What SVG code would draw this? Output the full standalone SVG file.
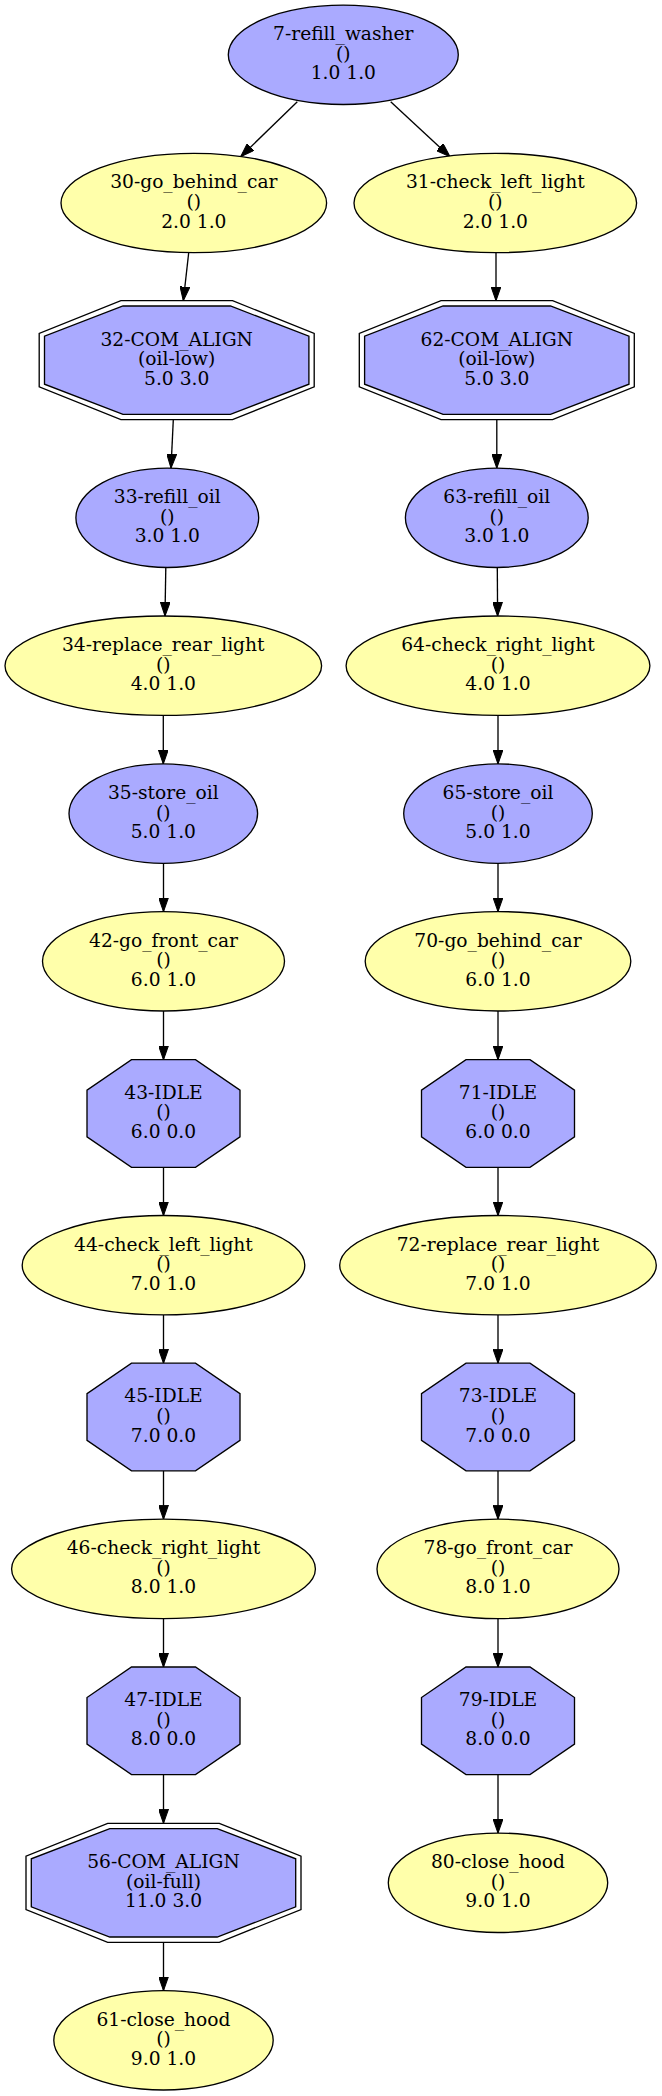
<svg xmlns="http://www.w3.org/2000/svg" width="662" height="2096" viewBox="0 0 662 2096">
<style>
.b{fill:#aaaaff;stroke:#000;stroke-width:1.33}
.y{fill:#ffffaa;stroke:#000;stroke-width:1.33}
.o{fill:none;stroke:#000;stroke-width:1.33}
.t{font-family:"DejaVu Serif",serif;font-size:18.67px;text-anchor:middle;fill:#000}
.e{fill:none;stroke:#000;stroke-width:1.33;marker-end:url(#ah)}
</style>
<defs>
<marker id="ah" markerUnits="userSpaceOnUse" markerWidth="14" markerHeight="10" viewBox="0 0 13.4 9.4" refX="13.4" refY="4.7" orient="auto">
<path d="M0,0 L13.4,4.7 L0,9.4 z" fill="#000" stroke="#000" stroke-width="1"/>
</marker>
</defs>
<rect width="662" height="2096" fill="#fff"/>
<g id="edges">
<path class="e" d="M297.3,101.7 L240.7,156.7"/>
<path class="e" d="M390.7,101.7 L450,156.7"/>
<path class="e" d="M188.7,252.7 L183.3,300.7"/>
<path class="e" d="M496,252.7 L496,300.7"/>
<path class="e" d="M173.3,419.7 L171,468.1"/>
<path class="e" d="M496.8,419.7 L496.8,468.1"/>
<path class="e" d="M165.8,567.5 L165,616"/>
<path class="e" d="M497.3,567.5 L497.6,616"/>
<path class="e" d="M163.3,715.4 L163.3,763.9"/>
<path class="e" d="M498,715.4 L498,763.9"/>
<path class="e" d="M163.5,863.3 L163.5,911.6"/>
<path class="e" d="M498,863.3 L498,911.6"/>
<path class="e" d="M163.5,1011 L163.5,1059.7"/>
<path class="e" d="M498,1011 L498,1059.7"/>
<path class="e" d="M163.5,1167.3 L163.5,1215.5"/>
<path class="e" d="M498,1167.3 L498,1215.5"/>
<path class="e" d="M163.5,1314.9 L163.5,1363.2"/>
<path class="e" d="M498,1314.9 L498,1363.2"/>
<path class="e" d="M163.5,1470.8 L163.5,1519.2"/>
<path class="e" d="M498,1470.8 L498,1519.2"/>
<path class="e" d="M163.5,1618.6 L163.5,1667"/>
<path class="e" d="M498,1618.6 L498,1667"/>
<path class="e" d="M163.5,1774.6 L163.5,1823.3"/>
<path class="e" d="M498,1774.6 L498,1833.1"/>
<path class="e" d="M163.5,1942.3 L163.5,1990.6"/>
</g>
<g id="n7"><ellipse class="b" cx="343.3" cy="54.8" rx="115" ry="49.7"/><text class="t" x="343.3" y="40.1">7-refill_washer</text><text class="t" x="343.3" y="59.7">()</text><text class="t" x="343.3" y="79.3">1.0 1.0</text></g>
<g id="n30"><ellipse class="y" cx="193.8" cy="203" rx="132.8" ry="49.7"/><text class="t" x="193.8" y="188.3">30-go_behind_car</text><text class="t" x="193.8" y="207.9">()</text><text class="t" x="193.8" y="227.5">2.0 1.0</text></g>
<g id="n31"><ellipse class="y" cx="495.3" cy="203" rx="141.3" ry="49.7"/><text class="t" x="495.3" y="188.3">31-check_left_light</text><text class="t" x="495.3" y="207.9">()</text><text class="t" x="495.3" y="227.5">2.0 1.0</text></g>
<g id="n32"><polygon class="o" points="120.9,300.7 232.5,300.7 314.2,333.5 314.2,386.9 232.5,419.7 120.9,419.7 39.2,386.9 39.2,333.5"/><polygon class="b" points="123,306 230.4,306 308.9,336.2 308.9,384.2 230.4,414.4 123,414.4 44.5,384.2 44.5,336.2"/><text class="t" x="176.7" y="345.5">32-COM_ALIGN</text><text class="t" x="176.7" y="365.1">(oil-low)</text><text class="t" x="176.7" y="384.7">5.0 3.0</text></g>
<g id="n62"><polygon class="o" points="441,300.7 552.6,300.7 634.3,333.5 634.3,386.9 552.6,419.7 441,419.7 359.3,386.9 359.3,333.5"/><polygon class="b" points="443.1,306 550.5,306 629,336.2 629,384.2 550.5,414.4 443.1,414.4 364.6,384.2 364.6,336.2"/><text class="t" x="496.8" y="345.5">62-COM_ALIGN</text><text class="t" x="496.8" y="365.1">(oil-low)</text><text class="t" x="496.8" y="384.7">5.0 3.0</text></g>
<g id="n33"><ellipse class="b" cx="167.3" cy="517.8" rx="91.4" ry="49.7"/><text class="t" x="167.3" y="503.1">33-refill_oil</text><text class="t" x="167.3" y="522.7">()</text><text class="t" x="167.3" y="542.3">3.0 1.0</text></g>
<g id="n63"><ellipse class="b" cx="496.8" cy="517.8" rx="91.4" ry="49.7"/><text class="t" x="496.8" y="503.1">63-refill_oil</text><text class="t" x="496.8" y="522.7">()</text><text class="t" x="496.8" y="542.3">3.0 1.0</text></g>
<g id="n34"><ellipse class="y" cx="163.3" cy="665.7" rx="158.3" ry="49.7"/><text class="t" x="163.3" y="651">34-replace_rear_light</text><text class="t" x="163.3" y="670.6">()</text><text class="t" x="163.3" y="690.2">4.0 1.0</text></g>
<g id="n64"><ellipse class="y" cx="498" cy="665.7" rx="151.9" ry="49.7"/><text class="t" x="498" y="651">64-check_right_light</text><text class="t" x="498" y="670.6">()</text><text class="t" x="498" y="690.2">4.0 1.0</text></g>
<g id="n35"><ellipse class="b" cx="163.3" cy="813.6" rx="94.3" ry="49.7"/><text class="t" x="163.3" y="798.9">35-store_oil</text><text class="t" x="163.3" y="818.5">()</text><text class="t" x="163.3" y="838.1">5.0 1.0</text></g>
<g id="n65"><ellipse class="b" cx="498" cy="813.6" rx="94.3" ry="49.7"/><text class="t" x="498" y="798.9">65-store_oil</text><text class="t" x="498" y="818.5">()</text><text class="t" x="498" y="838.1">5.0 1.0</text></g>
<g id="n42"><ellipse class="y" cx="163.5" cy="961.3" rx="121" ry="49.7"/><text class="t" x="163.5" y="946.6">42-go_front_car</text><text class="t" x="163.5" y="966.2">()</text><text class="t" x="163.5" y="985.8">6.0 1.0</text></g>
<g id="n70"><ellipse class="y" cx="498" cy="961.3" rx="132.8" ry="49.7"/><text class="t" x="498" y="946.6">70-go_behind_car</text><text class="t" x="498" y="966.2">()</text><text class="t" x="498" y="985.8">6.0 1.0</text></g>
<g id="n43"><polygon class="b" points="131.5,1059.7 195.5,1059.7 240,1090.2 240,1136.8 195.5,1167.3 131.5,1167.3 87,1136.8 87,1090.2"/><text class="t" x="163.5" y="1098.8">43-IDLE</text><text class="t" x="163.5" y="1118.4">()</text><text class="t" x="163.5" y="1138">6.0 0.0</text></g>
<g id="n71"><polygon class="b" points="466,1059.7 530,1059.7 574.5,1090.2 574.5,1136.8 530,1167.3 466,1167.3 421.5,1136.8 421.5,1090.2"/><text class="t" x="498" y="1098.8">71-IDLE</text><text class="t" x="498" y="1118.4">()</text><text class="t" x="498" y="1138">6.0 0.0</text></g>
<g id="n44"><ellipse class="y" cx="163.5" cy="1265.2" rx="141.3" ry="49.7"/><text class="t" x="163.5" y="1250.5">44-check_left_light</text><text class="t" x="163.5" y="1270.1">()</text><text class="t" x="163.5" y="1289.7">7.0 1.0</text></g>
<g id="n72"><ellipse class="y" cx="498" cy="1265.2" rx="158.3" ry="49.7"/><text class="t" x="498" y="1250.5">72-replace_rear_light</text><text class="t" x="498" y="1270.1">()</text><text class="t" x="498" y="1289.7">7.0 1.0</text></g>
<g id="n45"><polygon class="b" points="131.5,1363.2 195.5,1363.2 240,1393.7 240,1440.3 195.5,1470.8 131.5,1470.8 87,1440.3 87,1393.7"/><text class="t" x="163.5" y="1402.3">45-IDLE</text><text class="t" x="163.5" y="1421.9">()</text><text class="t" x="163.5" y="1441.5">7.0 0.0</text></g>
<g id="n73"><polygon class="b" points="466,1363.2 530,1363.2 574.5,1393.7 574.5,1440.3 530,1470.8 466,1470.8 421.5,1440.3 421.5,1393.7"/><text class="t" x="498" y="1402.3">73-IDLE</text><text class="t" x="498" y="1421.9">()</text><text class="t" x="498" y="1441.5">7.0 0.0</text></g>
<g id="n46"><ellipse class="y" cx="163.5" cy="1568.9" rx="151.9" ry="49.7"/><text class="t" x="163.5" y="1554.2">46-check_right_light</text><text class="t" x="163.5" y="1573.8">()</text><text class="t" x="163.5" y="1593.4">8.0 1.0</text></g>
<g id="n78"><ellipse class="y" cx="498" cy="1568.9" rx="121" ry="49.7"/><text class="t" x="498" y="1554.2">78-go_front_car</text><text class="t" x="498" y="1573.8">()</text><text class="t" x="498" y="1593.4">8.0 1.0</text></g>
<g id="n47"><polygon class="b" points="131.5,1667 195.5,1667 240,1697.5 240,1744.1 195.5,1774.6 131.5,1774.6 87,1744.1 87,1697.5"/><text class="t" x="163.5" y="1706.1">47-IDLE</text><text class="t" x="163.5" y="1725.7">()</text><text class="t" x="163.5" y="1745.3">8.0 0.0</text></g>
<g id="n79"><polygon class="b" points="466,1667 530,1667 574.5,1697.5 574.5,1744.1 530,1774.6 466,1774.6 421.5,1744.1 421.5,1697.5"/><text class="t" x="498" y="1706.1">79-IDLE</text><text class="t" x="498" y="1725.7">()</text><text class="t" x="498" y="1745.3">8.0 0.0</text></g>
<g id="n56"><polygon class="o" points="107.7,1823.3 219.3,1823.3 301,1856.1 301,1909.5 219.3,1942.3 107.7,1942.3 26,1909.5 26,1856.1"/><polygon class="b" points="109.8,1828.6 217.2,1828.6 295.7,1858.8 295.7,1906.8 217.2,1937 109.8,1937 31.3,1906.8 31.3,1858.8"/><text class="t" x="163.5" y="1868.1">56-COM_ALIGN</text><text class="t" x="163.5" y="1887.7">(oil-full)</text><text class="t" x="163.5" y="1907.3">11.0 3.0</text></g>
<g id="n80"><ellipse class="y" cx="498" cy="1882.8" rx="109.7" ry="49.7"/><text class="t" x="498" y="1868.1">80-close_hood</text><text class="t" x="498" y="1887.7">()</text><text class="t" x="498" y="1907.3">9.0 1.0</text></g>
<g id="n61"><ellipse class="y" cx="163.5" cy="2040.3" rx="109.7" ry="49.7"/><text class="t" x="163.5" y="2025.6">61-close_hood</text><text class="t" x="163.5" y="2045.2">()</text><text class="t" x="163.5" y="2064.8">9.0 1.0</text></g>
</svg>
